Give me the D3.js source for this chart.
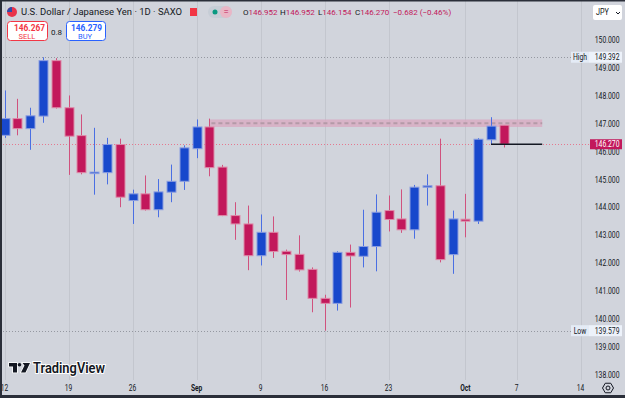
<!DOCTYPE html>
<html>
<head>
<meta charset="utf-8">
<script src="https://cdn.jsdelivr.net/npm/d3@7"></script>
<style>
  html, body { margin: 0; padding: 0; background: #d1d4dc; overflow: hidden; }
  svg { display: block; font-family: Roboto, "Liberation Sans", sans-serif; }
</style>
</head>
<body>
<div id="container"></div>
<script>
// USD/JPY daily candles, Aug 12 - Oct 4 (trading days only)
const days = ['08-12', '08-13', '08-14', '08-15', '08-16', '08-19', '08-20', '08-21', '08-22', '08-23',
  '08-26', '08-27', '08-28', '08-29', '08-30', '09-02', '09-03', '09-04', '09-05', '09-06',
  '09-09', '09-10', '09-11', '09-12', '09-13', '09-16', '09-17', '09-18', '09-19', '09-20',
  '09-23', '09-24', '09-25', '09-26', '09-27', '09-30', '10-01', '10-02', '10-03', '10-04']
const opens = [146.59, 147.19, 146.83, 147.28, 149.27, 147.58, 146.58, 145.25, 145.25, 146.26,
  144.25, 144.49, 143.92, 144.55, 144.94, 146.11, 146.89, 145.45, 143.71, 143.41,
  142.27, 143.11, 142.43, 142.32, 141.78, 140.74, 140.56, 142.39, 142.25, 142.60,
  143.89, 143.59, 143.20, 144.75, 144.78, 142.31, 143.58, 143.51, 146.43, 146.952]
const highs = [148.20, 147.90, 147.58, 149.392, 149.36, 148.02, 147.34, 146.86, 146.50, 146.47,
  144.64, 145.15, 145.02, 145.54, 146.23, 147.16, 147.19, 145.53, 144.19, 144.07,
  143.75, 143.68, 142.49, 143.00, 141.85, 140.87, 142.43, 142.67, 143.92, 144.47,
  144.43, 144.65, 144.81, 145.19, 146.47, 143.89, 144.49, 146.49, 147.24, 146.952]
const lows = [146.50, 146.59, 146.07, 147.04, 147.55, 145.17, 145.19, 144.46, 144.83, 144.01,
  143.41, 143.89, 143.65, 144.19, 144.63, 145.77, 145.12, 143.69, 142.84, 141.75,
  141.92, 142.19, 140.68, 141.70, 140.24, 139.579, 140.30, 140.41, 141.85, 141.71,
  143.14, 143.09, 142.88, 144.07, 142.03, 141.62, 142.93, 143.41, 146.26, 146.154]
const closes = [147.19, 146.83, 147.29, 149.27, 147.58, 146.56, 145.25, 145.27, 146.26, 144.37,
  144.49, 143.92, 144.56, 144.94, 146.14, 146.89, 145.43, 143.71, 143.41, 142.27,
  143.11, 142.42, 142.31, 141.76, 140.74, 140.56, 142.39, 142.26, 142.60, 143.83,
  143.57, 143.20, 144.73, 144.78, 142.13, 143.59, 143.51, 146.45, 146.92, 146.270]

// time axis: trading-day index of each label
const tickIndex = [0, 5, 10, 15, 20, 25, 30, 36, 40, 45]
const tickLabels = ['12', '19', '26', 'Sep', '9', '16', '23', 'Oct', '7', '14']
const priceTicks = [138, 139, 140, 141, 142, 143, 144, 145, 146, 147, 148, 149, 150]

// marks on the chart
const highValue = 149.392
const lowValue = 139.579
const lastPrice = 146.270
const zoneTop = 147.16
const zoneBottom = 146.89
const zoneStart = 16
const zoneEnd = 42
const trendStart = 38
const trendEnd = 42

const UP = '#1848cc'
const DOWN = '#c2185b'
const INK = '#131722'

// the screenshot's font is narrower than Roboto, squeeze text horizontally
function condense (sel, k) {
  sel.each(function () {
    const w = this.getComputedTextLength()
    d3.select(this).attr('textLength', w * k).attr('lengthAdjust', 'spacingAndGlyphs')
  })
  return sel
}

function fit (sel, len) {
  return sel.attr('textLength', len).attr('lengthAdjust', 'spacingAndGlyphs')
}

class CandleChart {
  constructor () {
    this.width = 625
    this.height = 398
    this.x = d3.scaleLinear().domain([0, 45]).range([4.6, 580.6])
    this.y = d3.scaleLinear().domain([138, 150]).range([374.7, 40.3])
    this.candles = days.map((d, i) => ({
      i, day: d, open: opens[i], high: highs[i], low: lows[i], close: closes[i]
    }))
    this.svg = d3.select('#container').append('svg')
      .attr('width', this.width)
      .attr('height', this.height)
    this.svg.append('rect').attr('width', this.width).attr('height', this.height).attr('fill', '#d1d4dc')
    this.drawGrid()
    this.drawLevels()
    this.drawCandles()
    this.drawPriceAxis()
    this.drawTimeAxis()
    this.drawHeader()
    this.drawLogo()
    // frame
    this.svg.append('rect').attr('x', 0).attr('y', 0).attr('width', 2).attr('height', this.height).attr('fill', '#2a2e39')
    this.svg.append('rect').attr('x', 0).attr('y', 0).attr('width', this.width).attr('height', 1.5).attr('fill', '#2a2e39')
    this.svg.append('rect').attr('x', 0).attr('y', 395).attr('width', this.width).attr('height', 3).attr('fill', '#2a2e39')
  }

  drawGrid () {
    const self = this
    this.svg.append('g').selectAll('line')
      .data(tickIndex)
      .enter().append('line')
      .attr('x1', d => Math.round(self.x(d)) + 0.5)
      .attr('x2', d => Math.round(self.x(d)) + 0.5)
      .attr('y1', 0)
      .attr('y2', 380)
      .attr('stroke', '#c3c6ce')
      .attr('stroke-width', 1)
  }

  drawLevels () {
    const g = this.svg.append('g')
    // high / low dotted lines
    ;[highValue, lowValue].forEach(v => {
      g.append('line')
        .attr('x1', 0).attr('x2', 571)
        .attr('y1', Math.round(this.y(v)) + 0.5).attr('y2', Math.round(this.y(v)) + 0.5)
        .attr('stroke', '#9598a1').attr('stroke-dasharray', '1,2')
    })
    // last price dotted line
    g.append('line')
      .attr('x1', 0).attr('x2', 590)
      .attr('y1', Math.round(this.y(lastPrice)) + 0.5).attr('y2', Math.round(this.y(lastPrice)) + 0.5)
      .attr('stroke', '#e5788f').attr('stroke-dasharray', '1,2')
    // resistance zone
    g.append('rect')
      .attr('x', this.x(zoneStart))
      .attr('y', this.y(zoneTop))
      .attr('width', this.x(zoneEnd) - this.x(zoneStart))
      .attr('height', this.y(zoneBottom) - this.y(zoneTop))
      .attr('fill', '#d9a8c0').attr('opacity', 0.75)
    const mid = this.y((zoneTop + zoneBottom) / 2)
    g.append('line')
      .attr('x1', this.x(zoneStart) + 2).attr('x2', this.x(zoneEnd))
      .attr('y1', mid).attr('y2', mid)
      .attr('stroke', '#b49aa8').attr('stroke-width', 2).attr('stroke-dasharray', '4,3')
  }

  drawCandles () {
    const self = this
    const g = this.svg.append('g')
    const up = d => d.close >= d.open
    g.selectAll('.wick')
      .data(this.candles)
      .enter().append('line')
      .attr('class', 'wick')
      .attr('x1', d => Math.round(self.x(d.i)) + 0.5)
      .attr('x2', d => Math.round(self.x(d.i)) + 0.5)
      .attr('y1', d => self.y(d.high))
      .attr('y2', d => self.y(d.low))
      .attr('stroke', d => up(d) ? '#4a6fe3' : '#d0527e')
      .attr('stroke-width', 1)
    g.selectAll('.body')
      .data(this.candles)
      .enter().append('rect')
      .attr('class', 'body')
      .attr('x', d => Math.round(self.x(d.i)) - 4)
      .attr('y', d => self.y(Math.max(d.open, d.close)))
      .attr('width', 9)
      .attr('height', d => Math.max(1.5, Math.abs(self.y(d.open) - self.y(d.close))))
      .attr('fill', d => up(d) ? UP : DOWN)
      .attr('stroke', d => up(d) ? '#8b9de0' : '#de8aa8')
      .attr('stroke-width', 1)
    // drawn horizontal line at last close
    g.append('line')
      .attr('x1', this.x(trendStart)).attr('x2', this.x(trendEnd))
      .attr('y1', this.y(lastPrice)).attr('y2', this.y(lastPrice))
      .attr('stroke', INK).attr('stroke-width', 1.5)
  }

  drawPriceAxis () {
    const g = this.svg.append('g').attr('font-size', 8.5).attr('fill', INK)
    condense(g.selectAll('.ptick')
      .data(priceTicks)
      .enter().append('text')
      .attr('class', 'ptick')
      .attr('x', 619.5)
      .attr('y', d => this.y(d))
      .attr('dy', '0.35em')
      .attr('text-anchor', 'end')
      .text(d => d3.format('.3f')(d)), 0.8)

    const tag = (label, v) => {
      const cy = this.y(v)
      g.append('rect').attr('x', 571).attr('y', cy - 5.5).attr('width', 18).attr('height', 11).attr('fill', '#e4ebf6')
      g.append('rect').attr('x', 589).attr('y', cy - 5.5).attr('width', 33).attr('height', 11).attr('fill', '#edf2fa')
      condense(g.append('text').attr('x', 580).attr('y', cy).attr('dy', '0.35em').attr('text-anchor', 'middle').text(label), 0.8)
      condense(g.append('text').attr('x', 619.5).attr('y', cy).attr('dy', '0.35em').attr('text-anchor', 'end').text(d3.format('.3f')(v)), 0.8)
    }
    tag('High', highValue)
    tag('Low', lowValue)

    const cy = this.y(lastPrice)
    g.append('rect').attr('x', 590).attr('y', cy - 5).attr('width', 32).attr('height', 10).attr('fill', DOWN)
    condense(g.append('text').attr('x', 619.5).attr('y', cy).attr('dy', '0.35em').attr('text-anchor', 'end')
      .attr('fill', '#ffffff').text(d3.format('.3f')(lastPrice)), 0.8)
  }

  drawTimeAxis () {
    const g = this.svg.append('g').attr('font-size', 8.5).attr('fill', INK)
    condense(g.selectAll('text')
      .data(tickIndex)
      .enter().append('text')
      .attr('x', d => this.x(d))
      .attr('y', 388)
      .attr('dy', '0.35em')
      .attr('text-anchor', 'middle')
      .attr('font-weight', (d, i) => isNaN(+tickLabels[i]) ? 700 : 400)
      .text((d, i) => tickLabels[i]), 0.78)
    // settings gear
    const gear = this.svg.append('g').attr('transform', 'translate(608,388)')
    const hex = d3.range(6).map(k => [5.5 * Math.cos(Math.PI / 3 * k), 5.5 * Math.sin(Math.PI / 3 * k)])
    gear.append('path').attr('d', 'M' + hex.join('L') + 'Z').attr('fill', 'none').attr('stroke', INK).attr('stroke-width', 1)
    gear.append('circle').attr('r', 2).attr('fill', 'none').attr('stroke', INK).attr('stroke-width', 1)
  }

  drawHeader () {
    const g = this.svg.append('g').attr('font-size', 9.5)
    // flag
    g.append('circle').attr('cx', 12).attr('cy', 12).attr('r', 5).attr('fill', '#e8334a')
    g.append('path').attr('d', 'M7,12 A5,5 0 0 1 12,7 L12,12 Z').attr('fill', '#2f4aa8')
    fit(g.append('text').attr('x', 21).attr('y', 12).attr('dy', '0.35em').attr('fill', INK)
      .text('U.S. Dollar / Japanese Yen · 1D · SAXO'), 161)
    g.append('rect').attr('x', 190).attr('y', 8).attr('width', 7).attr('height', 8).attr('fill', '#f23645')
    g.append('rect').attr('x', 208).attr('y', 6).attr('width', 24).attr('height', 12).attr('rx', 6).attr('fill', '#c6cdd6')
    g.append('rect').attr('x', 220).attr('y', 6).attr('width', 12).attr('height', 12).attr('rx', 6).attr('fill', '#e9b6c6')
    g.append('circle').attr('cx', 215).attr('cy', 12).attr('r', 2.5).attr('fill', '#089981')
    g.append('text').attr('x', 226).attr('y', 12).attr('dy', '0.35em').attr('text-anchor', 'middle').attr('fill', DOWN).text('=')

    // OHLC legend of the last candle, one text per item placed as in the screenshot
    const last = this.candles[this.candles.length - 1]
    const chg = last.close - last.open
    const items = [['O', last.open, 243], ['H', last.high, 280], ['L', last.low, 318], ['C', last.close, 355]]
    items.forEach(([k, v, px]) => {
      const t = g.append('text').attr('x', px).attr('y', 12).attr('dy', '0.35em').attr('font-size', 8)
      t.append('tspan').attr('fill', INK).text(k)
      t.append('tspan').attr('fill', DOWN).text(d3.format('.3f')(v))
    })
    g.append('text').attr('x', 393).attr('y', 12).attr('dy', '0.35em').attr('font-size', 8).attr('fill', DOWN)
      .text(d3.format('.3f')(chg).replace('-', '−') + ' (' + d3.format('.2%')(chg / last.open).replace('-', '−') + ')')

    // sell / buy
    const sell = this.svg.append('g')
    sell.append('rect').attr('x', 7.5).attr('y', 21.5).attr('width', 40).attr('height', 19).attr('rx', 3)
      .attr('fill', '#ffffff').attr('stroke', '#f23645')
    fit(sell.append('text').attr('x', 14).attr('y', 28).attr('dy', '0.35em')
      .attr('font-size', 9).attr('font-weight', 700).attr('fill', '#f23645').text('146.267'), 31)
    sell.append('text').attr('x', 27).attr('y', 36.5).attr('dy', '0.35em').attr('text-anchor', 'middle')
      .attr('font-size', 7.5).attr('fill', '#f23645').text('SELL')
    sell.append('text').attr('x', 56.5).attr('y', 32).attr('dy', '0.35em').attr('text-anchor', 'middle')
      .attr('font-size', 8).attr('fill', INK).text('0.8')
    sell.append('rect').attr('x', 66.5).attr('y', 21.5).attr('width', 39).attr('height', 19).attr('rx', 3)
      .attr('fill', '#ffffff').attr('stroke', '#2962ff')
    fit(sell.append('text').attr('x', 71).attr('y', 28).attr('dy', '0.35em')
      .attr('font-size', 9).attr('font-weight', 700).attr('fill', '#2962ff').text('146.279'), 31)
    sell.append('text').attr('x', 85).attr('y', 36.5).attr('dy', '0.35em').attr('text-anchor', 'middle')
      .attr('font-size', 7.5).attr('fill', '#2962ff').text('BUY')

    // currency box
    const cur = this.svg.append('g')
    cur.append('rect').attr('x', 593).attr('y', 5).attr('width', 29).attr('height', 15).attr('rx', 2).attr('fill', '#ffffff')
    condense(cur.append('text').attr('x', 596).attr('y', 12.5).attr('dy', '0.35em').attr('font-size', 8.5).attr('fill', INK).text('JPY'), 0.85)
    cur.append('path').attr('d', 'M616,12 l2,2 l2,-2').attr('fill', 'none').attr('stroke', INK).attr('stroke-width', 1)
  }

  drawLogo () {
    const g = this.svg.append('g').attr('transform', 'translate(9,363)')
    const icon = 'M0,0 H8 V9.5 H4 V3.5 H0 Z M13.5,0 H21 L16.5,9.5 H12 L15.5,2.5 Z'
    g.append('path').attr('d', icon).attr('fill', INK).attr('stroke', '#ffffff').attr('stroke-width', 1.5)
      .attr('paint-order', 'stroke')
    g.append('circle').attr('cx', 10.5).attr('cy', 1.8).attr('r', 1.8).attr('fill', INK)
    fit(g.append('text').attr('x', 24).attr('y', 5).attr('dy', '0.35em')
      .attr('font-size', 14).attr('font-weight', 600).attr('fill', INK)
      .attr('stroke', '#ffffff').attr('stroke-width', 2).attr('paint-order', 'stroke')
      .text('TradingView'), 72)
  }
}

const chart = new CandleChart()
</script>
</body>
</html>
